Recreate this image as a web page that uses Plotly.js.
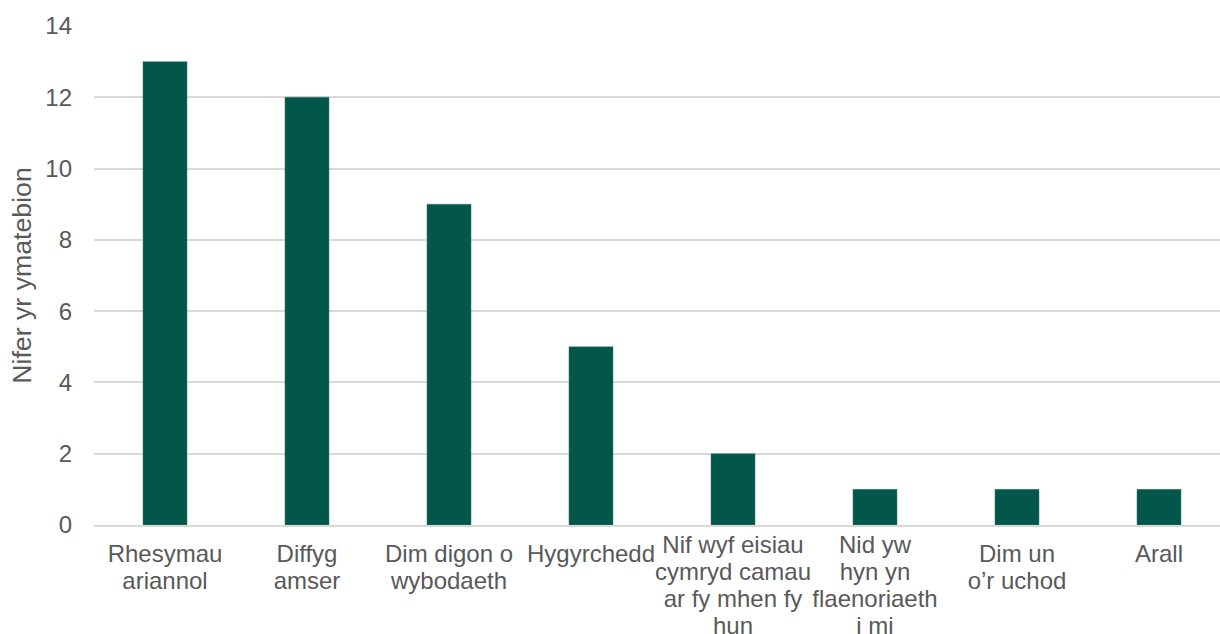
<!DOCTYPE html>
<html>
<head>
<meta charset="utf-8">
<script src="https://cdn.plot.ly/plotly-3.0.1.min.js"></script>
<style>
html, body { margin: 0; padding: 0; overflow: hidden; background: #fff; }
#chart { width: 1230px; height: 634px; }
</style>
</head>
<body>
<div id="chart"></div>
<script>
const categories = [
  "Rhesymau<br>ariannol",
  "Diffyg<br>amser",
  "Dim digon o<br>wybodaeth",
  "Hygyrchedd",
  "Nif wyf eisiau<br>cymryd camau<br>ar fy mhen fy<br>hun",
  "Nid yw<br>hyn yn<br>flaenoriaeth<br>i mi",
  "Dim un<br>o’r uchod",
  "Arall"
];
const values = [13, 12, 9, 5, 2, 1, 1, 1];
const yTicks = [0, 2, 4, 6, 8, 10, 12, 14];
const yTitle = "Nifer yr ymatebion";

const FONT = "Liberation Sans, Arial, sans-serif";
const GREY = "#595959";

const trace = {
  type: "bar",
  x: categories,
  y: values,
  marker: { color: "#02574A", line: { color: "#3f7f73", width: 0.5 } },
  hoverinfo: "x+y"
};

const layout = {
  width: 1230,
  height: 634,
  margin: { l: 94, r: 0, t: 26, b: 109, pad: 0 },
  paper_bgcolor: "#ffffff",
  plot_bgcolor: "#ffffff",
  bargap: 0.69,
  showlegend: false,
  font: { family: FONT, size: 24, color: GREY },
  xaxis: {
    type: "category",
    tickfont: { family: FONT, size: 24, color: GREY },
    showgrid: false,
    showline: true,
    linecolor: "#D9D9D9",
    linewidth: 1.5,
    ticks: "",
    ticklabelstandoff: 6,
    tickangle: 0,
    automargin: false
  },
  yaxis: {
    range: [0, 14],
    tickvals: yTicks,
    ticktext: yTicks.map(String),
    showgrid: true,
    gridcolor: "#D9D9D9",
    gridwidth: 1.5,
    zeroline: false,
    showline: false,
    ticks: "",
    ticklabelstandoff: 21,
    tickfont: { family: FONT, size: 24, color: GREY },
    title: { text: yTitle, font: { family: FONT, size: 26.7, color: GREY }, standoff: 5 },
    automargin: false
  }
};

function tightenLines(gd) {
  // Excel-like tighter line spacing for the wrapped category labels;
  // labels wrapped onto more than two lines sit a little higher, as in the source
  gd.querySelectorAll(".xtick text").forEach(function (t) {
    const lines = t.querySelectorAll("tspan.line");
    const lift = lines.length > 2 ? 0.375 : 0;
    lines.forEach(function (ln, i) {
      ln.setAttribute("dy", (i * 1.13 - lift) + "em");
    });
  });
}

Plotly.newPlot("chart", [trace], layout, { displayModeBar: false }).then(function (gd) {
  tightenLines(gd);
  gd.on("plotly_afterplot", function () { tightenLines(gd); });
});
</script>
</body>
</html>
